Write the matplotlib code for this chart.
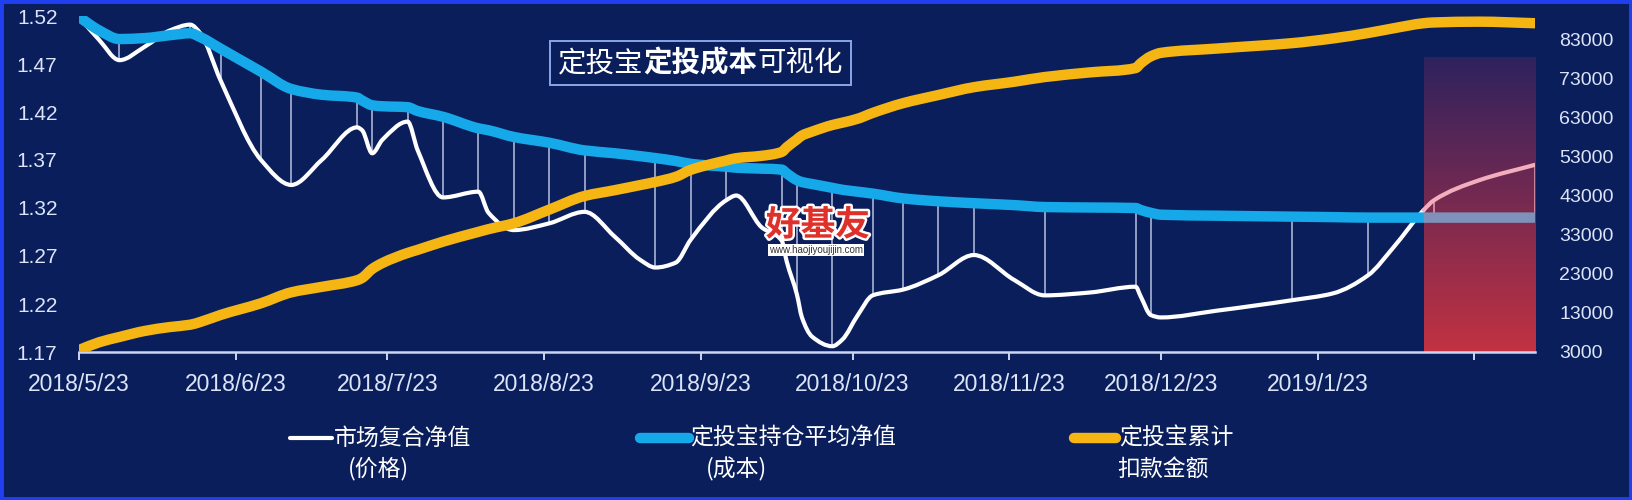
import matplotlib
matplotlib.use("Agg")
import matplotlib.pyplot as plt
import matplotlib.dates as mdates
import matplotlib.patheffects as pe
from matplotlib.patches import Rectangle, PathPatch
from matplotlib.path import Path
from matplotlib.lines import Line2D
import numpy as np
import pandas as pd

# ---------------- data ----------------
dates = ["2018-05-23", "2018-05-27", "2018-05-31", "2018-06-05", "2018-06-10", "2018-06-14",
         "2018-06-16", "2018-06-20", "2018-06-28", "2018-07-04", "2018-07-10", "2018-07-17",
         "2018-07-18", "2018-07-20", "2018-07-22", "2018-07-27", "2018-07-29", "2018-08-03",
         "2018-08-10", "2018-08-12", "2018-08-17", "2018-08-24", "2018-08-31", "2018-09-06",
         "2018-09-11", "2018-09-14", "2018-09-18", "2018-09-21", "2018-09-28", "2018-09-30",
         "2018-10-05", "2018-10-09", "2018-10-10", "2018-10-12", "2018-10-13", "2018-10-15",
         "2018-10-19", "2018-10-21", "2018-10-24", "2018-10-27", "2018-11-02", "2018-11-09",
         "2018-11-16", "2018-11-24", "2018-11-30", "2018-12-09", "2018-12-18", "2018-12-19",
         "2018-12-21", "2018-12-23", "2019-01-03", "2019-01-18", "2019-01-26", "2019-02-02",
         "2019-02-07", "2019-02-13", "2019-02-15", "2019-02-24", "2019-03-07"]

market_nav = [1.519, 1.495, 1.474, 1.488, 1.505, 1.511,
              1.502, 1.453, 1.370, 1.344, 1.370, 1.404,
              1.401, 1.377, 1.391, 1.410, 1.380, 1.331,
              1.337, 1.315, 1.297, 1.304, 1.316, 1.290,
              1.266, 1.258, 1.263, 1.287, 1.328, 1.333,
              1.300, 1.286, 1.264, 1.230, 1.206, 1.186,
              1.176, 1.183, 1.208, 1.229, 1.235, 1.250,
              1.271, 1.245, 1.229, 1.232, 1.238, 1.228,
              1.2085, 1.206, 1.213, 1.224, 1.231, 1.250,
              1.279, 1.318, 1.328, 1.349, 1.365]

avg_cost = [1.519, 1.505, 1.496, 1.497, 1.500, 1.502,
            1.498, 1.486, 1.462, 1.444, 1.438, 1.435,
            1.432, 1.427, 1.426, 1.425, 1.421, 1.415,
            1.403, 1.401, 1.394, 1.388, 1.380, 1.377,
            1.374, 1.372, 1.369, 1.366, 1.363, 1.362,
            1.361, 1.360, 1.356, 1.349, 1.347, 1.345,
            1.341, 1.339, 1.337, 1.335, 1.330, 1.327,
            1.325, 1.323, 1.321, 1.3205, 1.320, 1.318,
            1.315, 1.313, 1.312, 1.311, 1.3105, 1.310,
            1.310, 1.310, 1.310, 1.310, 1.310]

cum_amount = [3500, 5500, 6850, 8400, 9400, 10000,
              10700, 12500, 15500, 18300, 19700, 21400,
              22000, 24300, 25800, 28400, 29200, 31300,
              33800, 34500, 36000, 39500, 43000, 44500,
              45800, 46600, 47900, 49700, 52100, 52700,
              53300, 54300, 55500, 57500, 58500, 59500,
              61200, 61800, 62800, 64300, 66800, 68900,
              70900, 72300, 73500, 74700, 75800, 77000,
              78800, 79700, 80800, 82200, 83400, 84800,
              86000, 87300, 87500, 87700, 87300]

invest_dates = ["2018-05-31", "2018-06-14", "2018-06-20", "2018-06-28", "2018-07-04", "2018-07-17",
                "2018-07-20", "2018-07-27", "2018-08-03", "2018-08-10", "2018-08-17", "2018-08-24",
                "2018-08-31", "2018-09-14", "2018-09-21", "2018-09-28", "2018-10-09", "2018-10-12",
                "2018-10-19", "2018-10-27", "2018-11-02", "2018-11-09", "2018-11-16", "2018-11-30",
                "2018-12-18", "2018-12-21", "2019-01-18", "2019-02-02", "2019-02-15", "2019-03-07"]

shade_start = "2019-02-13"
shade_top = 1.477

tick_dates = ["2018-05-23", "2018-06-23", "2018-07-23", "2018-08-23", "2018-09-23",
              "2018-10-23", "2018-11-23", "2018-12-23", "2019-01-23", "2019-02-23"]
tick_labels = ["2018/5/23", "2018/6/23", "2018/7/23", "2018/8/23", "2018/9/23",
               "2018/10/23", "2018/11/23", "2018/12/23", "2019/1/23", ""]

left_ticks = [1.17, 1.22, 1.27, 1.32, 1.37, 1.42, 1.47, 1.52]
right_ticks = [3000, 13000, 23000, 33000, 43000, 53000, 63000, 73000, 83000]

title_parts = ["定投宝", "定投成本", "可视化"]
legend_names = [("市场复合净值", "(价格)"), ("定投宝持仓平均净值", "(成本)"), ("定投宝累计", "扣款金额")]

# ---------------- style ----------------
BG = "#0a1e5c"
BORDER = "#1f3ff0"
WHITE = "#ffffff"
BLUE = "#16a9ea"
YELLOW = "#f5b512"
PINK = "#f2aebd"
GREYBLUE = "#7f90bb"
TICKC = "#dce4f7"
AXISC = "#cdd6f0"
CJK = ["Noto Sans CJK SC", "DejaVu Sans"]
NUMF = ["Liberation Sans", "DejaVu Sans"]


def pchip_slopes(x, y):
    x = np.asarray(x, float)
    y = np.asarray(y, float)
    h = np.diff(x)
    s = np.diff(y) / h
    m = np.zeros_like(y)
    for k in range(1, len(y) - 1):
        if s[k - 1] * s[k] <= 0:
            m[k] = 0.0
        else:
            w1 = 2 * h[k] + h[k - 1]
            w2 = h[k] + 2 * h[k - 1]
            m[k] = (w1 + w2) / (w1 / s[k - 1] + w2 / s[k])
    m[0] = s[0]
    m[-1] = s[-1]
    return m


def smooth_path(x, y, m, a, b):
    """Bezier path through data points a..b (inclusive), Hermite tangents m."""
    verts = [(x[a], y[a])]
    codes = [Path.MOVETO]
    for k in range(a, b):
        dx = x[k + 1] - x[k]
        verts += [(x[k] + dx / 3, y[k] + m[k] * dx / 3),
                  (x[k + 1] - dx / 3, y[k + 1] - m[k + 1] * dx / 3),
                  (x[k + 1], y[k + 1])]
        codes += [Path.CURVE4] * 3
    return Path(verts, codes)


W, H = 1632, 500
fig = plt.figure(figsize=(W / 100, H / 100), dpi=100, facecolor=BG)
ax = fig.add_axes([79 / W, 1 - 352 / H, (1535 - 79) / W, (352 - 16) / H])
ax.set_facecolor(BG)
ax2 = ax.twinx()

d = pd.to_datetime(dates)
xn = mdates.date2num(d)
inv = pd.to_datetime(invest_dates)
s0 = pd.Timestamp(shade_start)
i0 = list(d).index(s0)
n = len(dates)

# gradient shaded area
top_c = np.array([46, 34, 94]) / 255
bot_c = np.array([194, 50, 66]) / 255
t = np.linspace(0, 1, 256)[:, None]
grad = (top_c[None, :] * (1 - t) + bot_c[None, :] * t)[:, None, :]
x0 = mdates.date2num(s0)
x1 = xn[-1]
ax.imshow(grad, extent=[x0, x1, left_ticks[0], shade_top], origin="upper",
          aspect="auto", zorder=1, interpolation="bilinear")

# connectors
for dt in inv:
    j = list(d).index(dt)
    col = PINK if dt >= s0 else "#c9d2ec"
    ax.plot([dt, dt], [market_nav[j], avg_cost[j]], color=col, lw=1.1, alpha=0.9, zorder=2)

mM = pchip_slopes(xn, market_nav)
mC = pchip_slopes(xn, avg_cost)
mA = pchip_slopes(xn, cum_amount)


def add_curve(a_, x, y, m, lo, hi, color, lw, z, cap="round"):
    p = PathPatch(smooth_path(x, y, m, lo, hi), fill=False, ec=color, lw=lw, zorder=z,
                  capstyle=cap, joinstyle="round")
    a_.add_patch(p)


add_curve(ax, xn, market_nav, mM, 0, i0, WHITE, 3.0, 3)
add_curve(ax, xn, market_nav, mM, i0, n - 1, PINK, 3.0, 3)
add_curve(ax, xn, avg_cost, mC, 0, i0, BLUE, 7.5, 4)
add_curve(ax, xn, avg_cost, mC, i0, n - 1, GREYBLUE, 7.5, 4, cap="butt")
add_curve(ax2, xn, cum_amount, mA, 0, n - 1, YELLOW, 7.5, 5)

ax.set_xlim(xn[0], xn[-1])
ax.set_ylim(left_ticks[0], 1.52)
ax2.set_ylim(right_ticks[0], right_ticks[0] + (right_ticks[-1] - right_ticks[0]) * 336 / 312)

for a in (ax, ax2):
    for sp in a.spines.values():
        sp.set_visible(False)
ax.spines["bottom"].set_visible(True)
ax.spines["bottom"].set_color(AXISC)
ax.spines["bottom"].set_linewidth(1.8)
ax.spines["bottom"].set_zorder(6)

ax.set_xticks(mdates.date2num(pd.to_datetime(tick_dates)))
ax.set_xticklabels(tick_labels)
ax.tick_params(axis="x", length=6, width=1.4, color=AXISC, labelcolor=TICKC,
               labelsize=16.5, pad=9, direction="out")
ax.set_yticks(left_ticks)
ax.set_yticklabels([f"{v:.2f}" for v in left_ticks])
ax.tick_params(axis="y", length=0, labelcolor=TICKC, labelsize=15, pad=15.5)
ax2.set_yticks(right_ticks)
ax2.set_yticklabels([str(v) for v in right_ticks])
ax2.tick_params(axis="y", length=0, labelcolor=TICKC, labelsize=14, pad=17.5)
for lab in ax.get_xticklabels() + ax.get_yticklabels() + ax2.get_yticklabels():
    lab.set_fontfamily(NUMF)

# title box
fig.canvas.draw()
renderer = fig.canvas.get_renderer()
xpix = 558
ty = 1 - 63 / H
weights = ["normal", "bold", "normal"]
for txt, wgt in zip(title_parts, weights):
    tt = fig.text(xpix / W, ty, txt, fontsize=20.5, color="white", family=CJK,
                  fontweight=wgt, ha="left", va="center", zorder=10)
    bb = tt.get_window_extent(renderer)
    xpix = bb.x1
fig.add_artist(Rectangle((550 / W, 1 - 85 / H), (xpix + 8 - 550) / W, 44 / H,
                         transform=fig.transFigure, fill=False, ec="#8aa6e6", lw=1.4, zorder=9))

# logo (watermark)
fig.text(818 / W, 1 - 225 / H, "好基友", fontsize=25, color="#e0302a", family=CJK,
         fontweight="bold", style="italic", ha="center", va="center", zorder=11,
         path_effects=[pe.withStroke(linewidth=3.5, foreground="white")])
fig.text(816 / W, 1 - 250 / H, "www.haojiyoujijin.com", fontsize=7, color="#333333",
         family=NUMF, ha="center", va="center", zorder=11,
         bbox=dict(boxstyle="square,pad=0.15", fc="white", ec="none"))

# legend
leg_y = 1 - 438 / H
leg_y2 = 1 - 469 / H
sw = [(290, 332, WHITE, 3.0), (640, 689, BLUE, 7.5), (1074, 1116, YELLOW, 7.5)]
txt_x = [334, 690, 1119]
sub_x = [379, 736, 1163]
for (xa, xb, c, lw), tx, sx, (n1, n2) in zip(sw, txt_x, sub_x, legend_names):
    fig.add_artist(Line2D([xa / W, xb / W], [leg_y, leg_y], transform=fig.transFigure,
                          color=c, lw=lw, solid_capstyle="round"))
    fig.text(tx / W, leg_y, n1, fontsize=16.5, color="white", family=CJK,
             ha="left", va="center")
    fig.text(sx / W, leg_y2, n2, fontsize=16.5, color="white", family=CJK,
             ha="center", va="center")

# border
fig.add_artist(Rectangle((0, 0), 1, 1, transform=fig.transFigure, fill=False,
                         ec=BORDER, lw=5, zorder=20))

fig.savefig("out.png", dpi=100, facecolor=BG)
